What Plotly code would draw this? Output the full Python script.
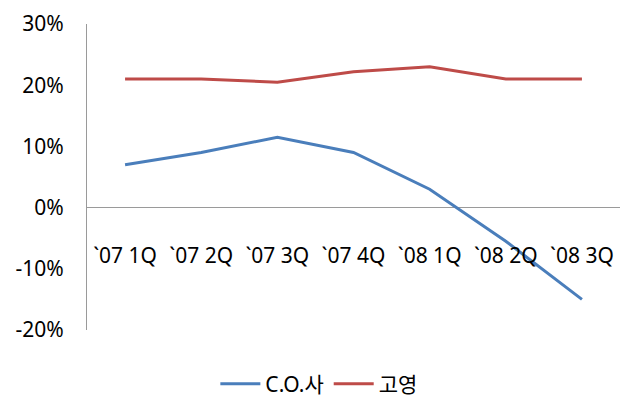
import plotly.graph_objects as go

categories = ["`07 1Q", "`07 2Q", "`07 3Q", "`07 4Q", "`08 1Q", "`08 2Q", "`08 3Q"]
co_values = [7, 9, 11.5, 9, 3, -5.5, -15]
koyoung_values = [21, 21, 20.5, 22.2, 23, 21, 21]
series_names = ["C.O.사", "고영"]
y_ticks = [-20, -10, 0, 10, 20, 30]
y_tick_labels = ["-20%", "-10%", "0%", "10%", "20%", "30%"]

FONT = "Noto Sans, Noto Sans CJK KR"

fig = go.Figure()
fig.add_trace(go.Scatter(x=categories, y=co_values, mode="lines", name=series_names[0],
                         line=dict(color="#4A7EBB", width=3)))
fig.add_trace(go.Scatter(x=categories, y=koyoung_values, mode="lines", name=series_names[1],
                         line=dict(color="#BE4B48", width=3)))

fig.update_layout(
    width=628, height=397,
    margin=dict(l=79, r=16, t=16, b=75, autoexpand=False),
    plot_bgcolor="white", paper_bgcolor="white",
    font=dict(family=FONT, size=21, color="black"),
    showlegend=True,
    legend=dict(orientation="h", x=0.435, xanchor="center", y=-0.11, yanchor="top",
                font=dict(size=21), itemwidth=40),
    xaxis=dict(
        type="category", showgrid=False, showline=False, zeroline=False,
        anchor="free", position=(322 - 199) / 306, ticks="", automargin=False,
        ticklabelstandoff=34, tickfont=dict(size=21),
        range=[-0.5, 6.5],
    ),
    yaxis=dict(
        range=[-20, 30], tickvals=y_ticks, ticktext=y_tick_labels, automargin=False,
        showgrid=False, showline=True, linecolor="#9a9a9a", linewidth=1,
        zeroline=True, zerolinecolor="#9a9a9a", zerolinewidth=1,
        ticks="", ticklabelstandoff=18, tickfont=dict(size=21),
    ),
)

fig.write_html("out.html")
